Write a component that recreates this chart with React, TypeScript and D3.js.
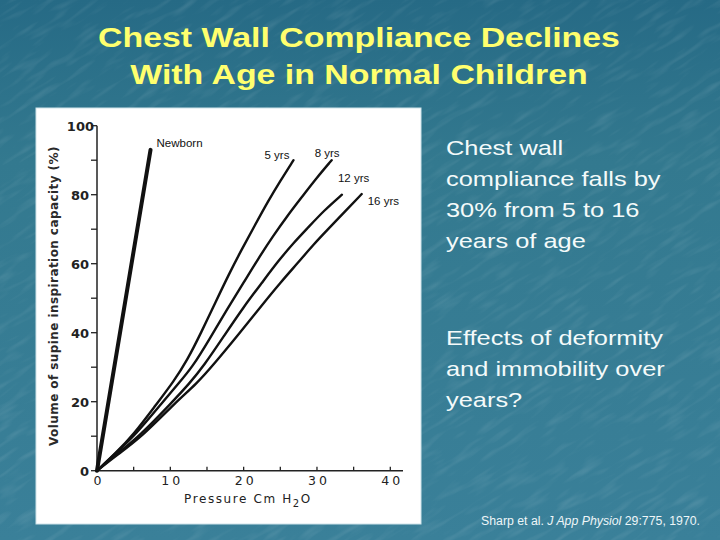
import React, { useEffect } from 'react';
import * as d3 from 'd3';

// curve points: [pressure cm H2O, % of inspiratory capacity]
const seriesNames = ['Newborn', '5 yrs', '8 yrs', '12 yrs', '16 yrs'];
const newborn = [[0, 0], [7.3, 93]];
const yrs5 = [[0, 0], [2.5, 5], [5, 10.5], [8, 19], [10.5, 26], [12.3, 32], [14.2, 40], [16.2, 49], [18, 57], [19.7, 64], [21.5, 71], [23.3, 78], [25, 84], [26.8, 90]];
const yrs8 = [[0, 0], [2.5, 5], [5.3, 10.5], [9, 20], [11.2, 25.5], [13, 30], [15.3, 38], [17.8, 47], [20, 54.5], [22, 61.5], [24, 68], [26, 74], [28, 79.5], [30, 85], [32, 90]];
const yrs12 = [[0, 0], [2.5, 4.5], [5.8, 10], [10.3, 20], [12.5, 25], [14.6, 30.5], [17.3, 39], [20, 47.5], [22.5, 54.5], [24.8, 61], [26.8, 66], [28.8, 70.5], [31, 75.5], [33.4, 80]];
const yrs16 = [[0, 0], [2.5, 4.2], [6.2, 10], [10.8, 20], [13.5, 25], [16, 31], [19.5, 40], [22.5, 48], [25, 54.5], [27.5, 60.5], [29.5, 65.5], [31.5, 70], [34, 75.5], [36.1, 80.2]];
const allSeries = [newborn, yrs5, yrs8, yrs12, yrs16];

const xTickLabels = [0, 10, 20, 30, 40];
const yTickLabels = [0, 20, 40, 60, 80, 100];

const titleLines = ['Chest Wall Compliance Declines', 'With Age in Normal Children'];
const bullet1 = ['Chest wall', 'compliance falls by', '30% from 5 to 16', 'years of age'];
const bullet2 = ['Effects of deformity', 'and immobility over', 'years?'];

// label placement relative to each curve end (px)
const labelDx = [6, -29, -17, -4, 6];
const labelDy = [-3, -1, -3, -13, 11];

export default function App() {
  useEffect(() => {
    document.body.style.margin = '0';
  }, []);

  const x = d3.scaleLinear().domain([0, 40]).range([97, 390.3]);
  const y = d3.scaleLinear().domain([0, 100]).range([470.7, 125.7]);

  const line = d3
    .line<number[]>()
    .x((d) => x(d[0]))
    .y((d) => y(d[1]))
    .curve(d3.curveBasis);

  const xMinor = d3.range(5, 41, 5);
  const yMinor = d3.range(0, 101, 10);

  // the slide is stretched sideways, so its text is widened too
  const stretch = 1.21;
  const sans = "'Liberation Sans', Arial, sans-serif";

  return (
    <svg width={720} height={540} style={{ display: 'block' }}>
      <defs>
        <linearGradient id="bg" x1="0" y1="0" x2="0" y2="1">
          <stop offset="0" stopColor="#266a85" />
          <stop offset="0.3" stopColor="#33798f" />
          <stop offset="1" stopColor="#3a8099" />
        </linearGradient>
        <filter id="grain" x="0" y="0" width="100%" height="100%">
          <feTurbulence type="fractalNoise" baseFrequency="0.03 0.16" numOctaves={2} seed={7} />
          <feColorMatrix values="0 0 0 0 1  0 0 0 0 1  0 0 0 0 1  0 0 0 0.6 -0.3" />
        </filter>
      </defs>
      <rect width={720} height={540} fill="url(#bg)" />
      <g transform="rotate(-32 360 270)" opacity={0.4}>
        <rect x={-300} y={-300} width={1320} height={1140} filter="url(#grain)" />
      </g>

      {titleLines.map((t, i) => (
        <text
          key={t}
          transform={`translate(359,${47 + i * 36.5}) scale(${stretch},1)`}
          textAnchor="middle"
          fontFamily={sans}
          fontWeight="bold"
          fontSize={28}
          fill="#ffff6e"
        >
          {t}
        </text>
      ))}

      <rect x={36} y={108} width={385} height={416} fill="#ffffff" stroke="#cfe3ea" strokeWidth={1} />

      {/* axes */}
      <line x1={x(0)} x2={403} y1={y(0)} y2={y(0)} stroke="#222" strokeWidth={1.5} />
      <line x1={x(0)} x2={x(0)} y1={y(0)} y2={y(100)} stroke="#222" strokeWidth={1.5} />
      {xMinor.map((t) => (
        <line key={'xt' + t} x1={x(t)} x2={x(t)} y1={y(0)} y2={y(0) - 4} stroke="#222" strokeWidth={1.3} />
      ))}
      {yMinor.map((t) => (
        <line key={'yt' + t} x1={x(0) - 6} x2={x(0)} y1={y(t)} y2={y(t)} stroke="#222" strokeWidth={1.3} />
      ))}
      {xTickLabels.map((t) => (
        <text
          key={'xl' + t}
          x={x(t) + 2}
          y={485}
          textAnchor="middle"
          fontFamily="'DejaVu Sans', sans-serif"
          fontSize={12.5}
          letterSpacing={3}
          fill="#222"
        >
          {t}
        </text>
      ))}
      {yTickLabels.map((t) => (
        <text
          key={'yl' + t}
          x={x(0) - (t === 100 ? 3 : 8)}
          y={y(t) + 5}
          textAnchor="end"
          fontFamily="'DejaVu Sans', sans-serif"
          fontWeight="bold"
          fontSize={13}
          fill="#222"
        >
          {t}
        </text>
      ))}
      <text
        transform="translate(58,296) rotate(-90)"
        textAnchor="middle"
        fontFamily="'DejaVu Sans', sans-serif"
        fontSize={12}
        fontWeight="bold"
        letterSpacing={0.6}
        textLength={300}
        lengthAdjust="spacing"
        fill="#2a2a2a"
      >
        Volume of supine inspiration capacity (%)
      </text>
      <text x={184} y={503} fontFamily="'DejaVu Sans', sans-serif" fontSize={12} letterSpacing={1.6} fill="#222">
        Pressure Cm H<tspan dy={4} fontSize={10}>2</tspan>
        <tspan dy={-4}>O</tspan>
      </text>

      {/* curves */}
      {allSeries.map((s, i) => (
        <path
          key={seriesNames[i]}
          d={line(s) || ''}
          fill="none"
          stroke="#111"
          strokeWidth={i === 0 ? 4 : 2.4}
          strokeLinecap="round"
        />
      ))}
      {allSeries.map((s, i) => {
        const end = s[s.length - 1];
        return (
          <text
            key={'lab' + i}
            x={x(end[0]) + labelDx[i]}
            y={y(end[1]) + labelDy[i]}
            fontFamily={sans}
            fontSize={11.5}
            fill="#111"
          >
            {seriesNames[i]}
          </text>
        );
      })}

      {/* right-hand bullets */}
      {bullet1.map((t, i) => (
        <text
          key={t}
          transform={`translate(446,${155 + i * 31}) scale(${stretch},1)`}
          fontFamily={sans}
          fontSize={21}
          fill="#f4fafa"
        >
          {t}
        </text>
      ))}
      {bullet2.map((t, i) => (
        <text
          key={t}
          transform={`translate(446,${345 + i * 31}) scale(${stretch},1)`}
          fontFamily={sans}
          fontSize={21}
          fill="#f4fafa"
        >
          {t}
        </text>
      ))}
      <text
        x={481}
        y={525}
        fontFamily={sans}
        fontSize={12}
        textLength={219}
        lengthAdjust="spacingAndGlyphs"
        fill="#eef6f8"
      >
        Sharp et al. <tspan fontStyle="italic">J App Physiol</tspan> 29:775, 1970.
      </text>
    </svg>
  );
}
